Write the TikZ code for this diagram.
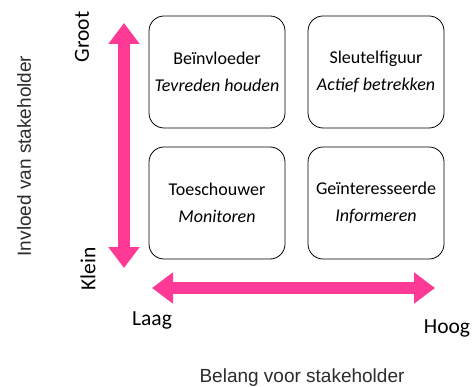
\documentclass[tikz,border=0pt]{standalone}
\usepackage{fontspec}
\setmainfont{Carlito}
\newfontfamily\arialfont{Liberation Sans}
\usetikzlibrary{arrows.meta}
\definecolor{pinkarrow}{HTML}{FF3A96}
\definecolor{titlegray}{HTML}{2B2B2B}
\begin{document}
\begin{tikzpicture}[x=1pt,y=-1pt,
  quad/.style={draw=black, rounded corners=15pt, minimum width=136pt, minimum height=112pt,
    align=center, inner sep=0pt, font=\fontsize{18}{27}\selectfont, line width=0.8pt},
  axisarrow/.style={pinkarrow, line width=12pt,
    {Triangle[width=30pt,length=21pt]}-{Triangle[width=30pt,length=21pt]}},
  endlabel/.style={inner sep=0pt, font=\fontsize{21.5}{24}\selectfont},
  axistitle/.style={inner sep=0pt, text=titlegray, font=\arialfont\fontsize{19}{22}\selectfont}]
\useasboundingbox (0,0) rectangle (473,387);
\node[quad] (tl) at (217,72) {Beïnvloeder\\\textit{Tevreden houden}};
\node[quad] (tr) at (376,72) {Sleutelfiguur\\\textit{Actief betrekken}};
\node[quad] (bl) at (217,203) {Toeschouwer\\\textit{Monitoren}};
\node[quad] (br) at (376,203) {Geïnteresseerde\\\textit{Informeren}};
\coordinate (vtop) at (124,23);
\coordinate (vbot) at (124,268);
\coordinate (hleft) at (152,288);
\coordinate (hright) at (435,288);
\draw[axisarrow] (vtop) -- (vbot);
\draw[axisarrow] (hleft) -- (hright);
\node[endlabel, rotate=90] (groot) at (82,37) {Groot};
\node[endlabel, rotate=90] (klein) at (88,269) {Klein};
\node[endlabel] (laag) at (152,320) {Laag};
\node[endlabel] (hoog) at (447,328) {Hoog};
\node[axistitle, rotate=90] (yt) at (24,156) {Invloed van stakeholder};
\node[axistitle] (xt) at (302,378) {Belang voor stakeholder};
\end{tikzpicture}
\end{document}
